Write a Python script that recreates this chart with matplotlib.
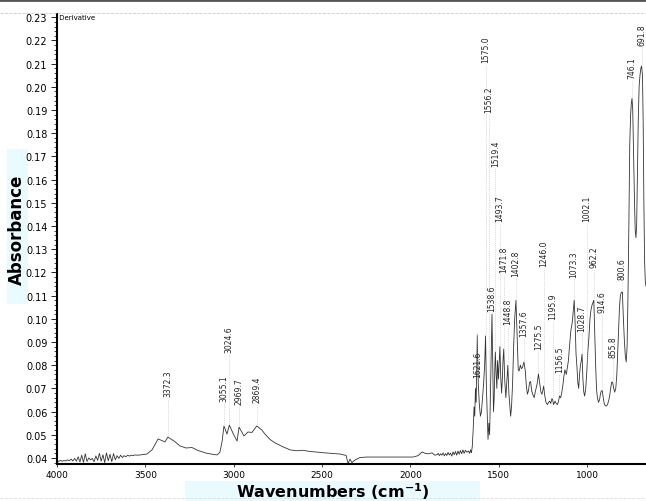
import matplotlib
matplotlib.use("Agg")
import matplotlib.pyplot as plt
from matplotlib.lines import Line2D
from matplotlib.patches import Rectangle
from matplotlib.ticker import MultipleLocator
import numpy as np

# spectrum (wavenumber cm-1, absorbance)
wn_noisy = [4000, 3990, 3980, 3970, 3960, 3950, 3940, 3930, 3920, 3910, 3900, 3890,
            3880, 3870, 3860, 3850, 3840, 3830, 3820, 3810, 3800, 3790, 3780, 3770,
            3760, 3750, 3740, 3730, 3720, 3710, 3700, 3690, 3680, 3670, 3660, 3650,
            3640, 3630, 3620, 3610, 3600, 3590, 3580, 3570, 3560, 3540, 3520, 3500]
abs_noisy = [0.0388, 0.0385, 0.0390, 0.0386, 0.0389, 0.0387, 0.0392, 0.0388, 0.0395,
             0.0387, 0.0398, 0.0386, 0.0405, 0.0383, 0.0412, 0.0381, 0.0418, 0.0385,
             0.0400, 0.0392, 0.0398, 0.0384, 0.0409, 0.0390, 0.0420, 0.0386, 0.0414,
             0.0380, 0.0422, 0.0388, 0.0416, 0.0384, 0.0419, 0.0392, 0.0410, 0.0398,
             0.0412, 0.0402, 0.0410, 0.0405, 0.0412, 0.0408, 0.0412, 0.0410, 0.0413,
             0.0412, 0.0414, 0.0416]

wn_mid = [3491, 3462, 3428, 3406, 3389, 3372.3, 3332, 3304, 3270, 3236, 3202, 3151,
          3094, 3078, 3066, 3055.1, 3038, 3024.6, 3000, 2981, 2969.7, 2942, 2919,
          2897, 2869.4, 2840, 2823, 2795, 2766, 2721, 2681, 2647, 2608, 2568, 2483,
          2398, 2364, 2353, 2342, 2331, 2314, 2285, 2246, 2115, 1985, 1957, 1934,
          1917, 1900, 1878, 1862]
abs_mid = [0.0417, 0.0435, 0.0482, 0.0475, 0.0469, 0.0490, 0.0470, 0.0452, 0.0443,
           0.0445, 0.0432, 0.0420, 0.0413, 0.0425, 0.0470, 0.0538, 0.0503, 0.0542,
           0.0500, 0.0473, 0.0533, 0.0495, 0.0512, 0.0510, 0.0538, 0.0520, 0.0503,
           0.0480, 0.0465, 0.0448, 0.0435, 0.0431, 0.0433, 0.0428, 0.0422, 0.0417,
           0.0411, 0.0376, 0.0395, 0.0380, 0.0391, 0.0402, 0.0404, 0.0404, 0.0404,
           0.0410, 0.0426, 0.0420, 0.0418, 0.0422, 0.0412]

wn_base2 = [1850, 1843, 1836, 1829, 1822, 1815, 1808, 1801, 1794, 1787, 1780, 1773,
            1766, 1759, 1752, 1745, 1738, 1731, 1724, 1717, 1710, 1703, 1696, 1689,
            1680, 1672, 1665, 1660, 1655]
abs_base2 = [0.0414, 0.0420, 0.0410, 0.0418, 0.0412, 0.0422, 0.0409, 0.0419, 0.0411,
             0.0424, 0.0413, 0.0421, 0.0408, 0.0426, 0.0414, 0.0428, 0.0412, 0.0430,
             0.0416, 0.0432, 0.0418, 0.0435, 0.0420, 0.0433, 0.0425, 0.0430, 0.0420,
             0.0435, 0.0422]

wn_fp = [1650, 1645, 1640, 1636, 1632, 1628, 1621.6, 1616, 1610, 1604, 1598, 1592,
         1586, 1580, 1575, 1570, 1565, 1561, 1556.2, 1552, 1547, 1543, 1538.6, 1534,
         1530, 1526, 1522, 1519.4, 1515, 1511, 1507, 1502, 1497, 1493.7, 1489, 1484,
         1480, 1476, 1471.8, 1466, 1460, 1455, 1448.8, 1443, 1438, 1433, 1428, 1422,
         1416, 1410, 1402.8, 1396, 1390, 1385, 1378, 1372, 1366, 1357.6, 1350, 1344,
         1338, 1332, 1326, 1320, 1314, 1308, 1300, 1292, 1283, 1275.5, 1268, 1262,
         1256, 1251, 1246, 1240, 1233, 1225, 1218, 1212, 1206, 1200, 1195.9, 1190,
         1182, 1175, 1168, 1162, 1156.5, 1150, 1144, 1138, 1132, 1126, 1118, 1112,
         1106, 1100, 1092, 1084, 1078, 1073.3, 1068, 1063, 1058, 1053, 1048, 1043,
         1038, 1033, 1028.7, 1024, 1019, 1014, 1008, 1002.1, 996, 990, 984, 978, 972,
         967, 962.2, 957, 952, 947, 942, 936, 930, 925, 920, 914.6, 909, 903, 897,
         891, 885, 879, 873, 867, 861, 855.8, 850, 844, 838, 832, 827, 822, 817, 812,
         806, 800.6, 795, 789, 784, 779, 774, 769, 764, 759, 754, 750, 746.1, 742,
         737, 732, 728, 724, 720, 716, 711, 706, 701, 696, 691.8, 687, 683, 679, 675,
         671, 667, 660]
abs_fp = [0.0450, 0.0520, 0.0620, 0.0580, 0.0700, 0.0640, 0.0930, 0.0720, 0.0630,
          0.0580, 0.0600, 0.0660, 0.0720, 0.0800, 0.0926, 0.0700, 0.0580, 0.0480,
          0.0550, 0.0500, 0.0680, 0.0850, 0.1020, 0.0800, 0.0600, 0.0660, 0.0800,
          0.0857, 0.0760, 0.0700, 0.0820, 0.0740, 0.0830, 0.0880, 0.0750, 0.0680,
          0.0740, 0.0820, 0.0870, 0.0730, 0.0660, 0.0720, 0.0800, 0.0680, 0.0630,
          0.0580, 0.0620, 0.0720, 0.0880, 0.1000, 0.1080, 0.0920, 0.0780, 0.0775,
          0.0800, 0.0785, 0.0790, 0.0814, 0.0775, 0.0710, 0.0675, 0.0690, 0.0725,
          0.0730, 0.0690, 0.0675, 0.0660, 0.0690, 0.0720, 0.0762, 0.0720, 0.0685,
          0.0675, 0.0690, 0.0710, 0.0670, 0.0640, 0.0630, 0.0640, 0.0645, 0.0635,
          0.0655, 0.0654, 0.0630, 0.0645, 0.0635, 0.0630, 0.0645, 0.0667, 0.0660,
          0.0680, 0.0710, 0.0750, 0.0780, 0.0760, 0.0790, 0.0820, 0.0880, 0.0950,
          0.0986, 0.1040, 0.1080, 0.0980, 0.0850, 0.0796, 0.0727, 0.0700, 0.0760,
          0.0800, 0.0820, 0.0848, 0.0740, 0.0684, 0.0667, 0.0700, 0.0770, 0.0860,
          0.0920, 0.1000, 0.1040, 0.1060, 0.1070, 0.1080, 0.0940, 0.0800, 0.0697,
          0.0660, 0.0640, 0.0650, 0.0675, 0.0689, 0.0690, 0.0660, 0.0633, 0.0625,
          0.0624, 0.0630, 0.0645, 0.0665, 0.0700, 0.0727, 0.0727, 0.0700, 0.0684,
          0.0700, 0.0760, 0.0860, 0.0970, 0.1050, 0.1100, 0.1115, 0.1115, 0.1000,
          0.0900, 0.0840, 0.0814, 0.0880, 0.1100, 0.1400, 0.1750, 0.1880, 0.1930,
          0.1950, 0.1900, 0.1700, 0.1500, 0.1380, 0.1350, 0.1400, 0.1600, 0.1850,
          0.2000, 0.2050, 0.2080, 0.2090, 0.2050, 0.1850, 0.1500, 0.1250, 0.1160,
          0.1140, 0.1130]

# peak labels and the height where each label starts
peak_wn = [3372.3, 3055.1, 3024.6, 2969.7, 2869.4, 1621.6, 1575.0, 1556.2, 1538.6,
           1519.4, 1493.7, 1471.8, 1448.8, 1402.8, 1357.6, 1275.5, 1246.0, 1195.9,
           1156.5, 1073.3, 1028.7, 1002.1, 962.2, 914.6, 855.8, 800.6, 746.1, 691.8]
label_y = [0.0667, 0.0646, 0.0857, 0.0633, 0.0640, 0.0749, 0.2106, 0.1890, 0.1033,
           0.1658, 0.1420, 0.1200, 0.0977, 0.1184, 0.0926, 0.0870, 0.1227, 0.0999,
           0.0770, 0.1180, 0.0947, 0.1420, 0.1223, 0.1029, 0.0835, 0.1171, 0.2040,
           0.2180]

wn = np.array(wn_noisy + wn_mid + wn_base2 + wn_fp)
absorb = np.array(abs_noisy + abs_mid + abs_base2 + abs_fp)

fig = plt.figure(figsize=(6.46, 5.02), dpi=100)
ax = fig.add_axes([0.0882, 0.0737, 0.9118, 0.896])

ax.plot(wn, absorb, color="#333333", lw=0.6)

order = np.argsort(wn)
for p, ly in zip(peak_wn, label_y):
    yc = np.interp(p, wn[order], absorb[order])
    ax.plot([p, p], [yc + 0.001, ly - 0.001], color="#bbbbbb", lw=0.5, ls=":")
    ax.text(p, ly, f"{p:.1f}", rotation=90, ha="center", va="bottom",
            fontsize=5.5, color="#222222")

ax.set_xlim(4000, 667)
ax.set_ylim(0.0374, 0.2313)
ax.yaxis.set_minor_locator(MultipleLocator(0.002))
yt = np.arange(0.04, 0.2301, 0.01)
ax.set_yticks(yt)
ax.set_yticklabels([f"{v:.2f}" for v in yt])
ax.set_xticks([4000, 3500, 3000, 2500, 2000, 1500, 1000])
ax.tick_params(axis="y", labelsize=7, length=4, width=0.6, pad=3)
ax.tick_params(axis="y", which="minor", length=2, width=0.5)
ax.tick_params(axis="x", labelsize=6.5, length=2, width=0.5, pad=2)

for side in ["top", "right"]:
    ax.spines[side].set_visible(False)
ax.spines["left"].set_linewidth(1.5)
ax.spines["bottom"].set_linewidth(1.5)
ax.patch.set_alpha(0)

ax.text(4000, 0.2300, " Derivative", fontsize=5, ha="left", va="center")

# light boxes behind the axis titles
fig.add_artist(Rectangle((185 / 646, 0), 295 / 646, 20 / 502,
                         transform=fig.transFigure, facecolor="#eafbff",
                         edgecolor="none", zorder=0))
fig.add_artist(Rectangle((7 / 646, 197 / 502), 21 / 646, 155 / 502,
                         transform=fig.transFigure, facecolor="#eafbff",
                         edgecolor="none", zorder=0))
fig.text(333 / 646, 10 / 502, "Wavenumbers (cm$^{\\mathbf{-1}}$)", fontsize=11.5,
         fontweight="bold", ha="center", va="center")
fig.text(17 / 646, 272 / 502, "Absorbance", fontsize=12, fontweight="bold",
         rotation=90, ha="center", va="center")

# page edges from the scan
fig.add_artist(Line2D([0, 1], [1 - 1 / 502, 1 - 1 / 502], transform=fig.transFigure,
                      color="#555555", lw=2))
fig.add_artist(Line2D([0, 1], [1 - 14 / 502, 1 - 14 / 502], transform=fig.transFigure,
                      color="#cccccc", lw=0.6, ls="--"))
fig.add_artist(Line2D([0, 1], [3 / 502, 3 / 502], transform=fig.transFigure,
                      color="#dddddd", lw=0.6, ls="--"))

fig.savefig("out.png", dpi=100)
plt.close(fig)
